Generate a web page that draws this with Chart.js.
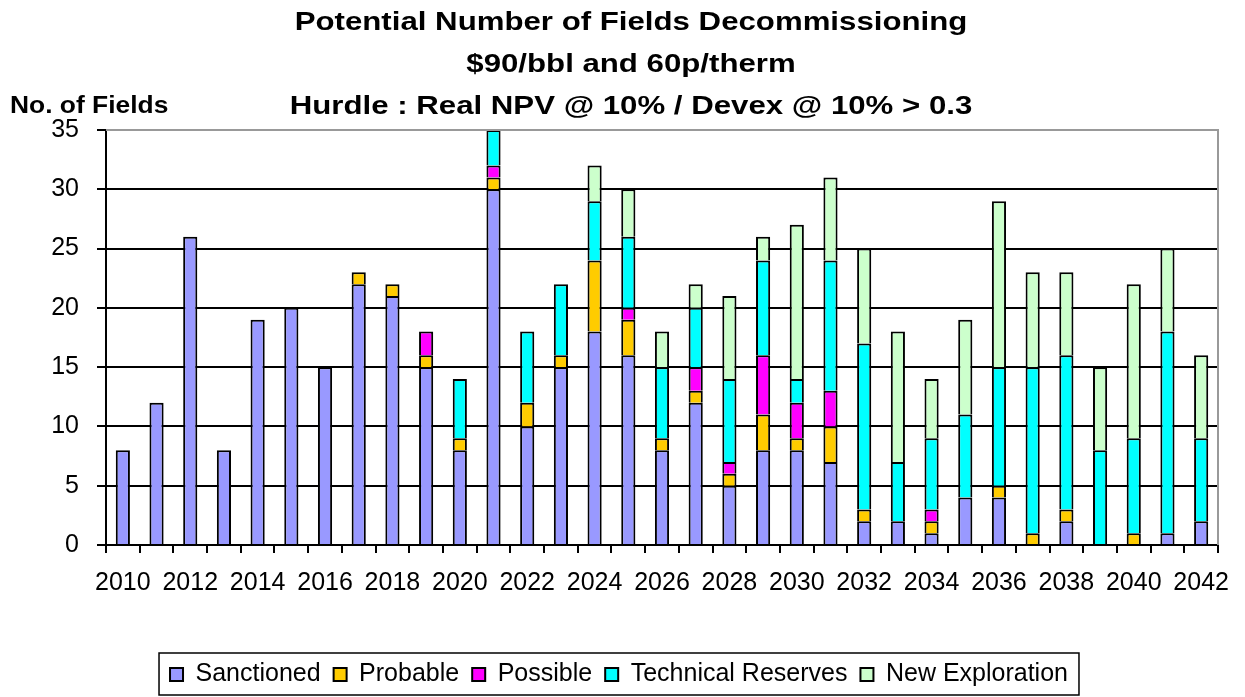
<!DOCTYPE html>
<html>
<head>
<meta charset="utf-8">
<script src="https://cdn.jsdelivr.net/npm/chart.js@4.4.0/dist/chart.umd.min.js"></script>
<style>
  html, body { margin: 0; padding: 0; background: #fff; }
  #wrap { width: 1245px; height: 697px; }
</style>
</head>
<body>
<div id="wrap"><canvas id="chart"></canvas></div>
<script>
const years = ['2010', '2011', '2012', '2013', '2014', '2015', '2016', '2017', '2018', '2019', '2020',
               '2021', '2022', '2023', '2024', '2025', '2026', '2027', '2028', '2029', '2030',
               '2031', '2032', '2033', '2034', '2035', '2036', '2037', '2038', '2039', '2040',
               '2041', '2042'];

const sanctioned  = [8, 12, 26, 8, 19, 20, 15, 22, 21, 15, 8, 30, 10, 15, 18, 16, 8, 12, 5, 8, 8, 7, 2, 2, 1, 4, 4, 0, 2, 0, 0, 1, 2];
const probable    = [0, 0, 0, 0, 0, 0, 0, 1, 1, 1, 1, 1, 2, 1, 6, 3, 1, 1, 1, 3, 1, 3, 1, 0, 1, 0, 1, 1, 1, 0, 1, 0, 0];
const possible    = [0, 0, 0, 0, 0, 0, 0, 0, 0, 2, 0, 1, 0, 0, 0, 1, 0, 2, 1, 5, 3, 3, 0, 0, 1, 0, 0, 0, 0, 0, 0, 0, 0];
const technical   = [0, 0, 0, 0, 0, 0, 0, 0, 0, 0, 5, 3, 6, 6, 5, 6, 6, 5, 7, 8, 2, 11, 14, 5, 6, 7, 10, 14, 13, 8, 8, 17, 7];
const exploration = [0, 0, 0, 0, 0, 0, 0, 0, 0, 0, 0, 0, 0, 0, 3, 4, 3, 2, 7, 2, 13, 7, 8, 11, 5, 8, 14, 8, 7, 7, 13, 7, 7];

const seriesNames  = ['Sanctioned', 'Probable', 'Possible', 'Technical Reserves', 'New Exploration'];
const seriesColors = ['#9999FF', '#FFCC00', '#FF00FF', '#00FFFF', '#CCFFCC'];

const titleLines = [
    'Potential Number of Fields Decommissioning',
    '$90/bbl and 60p/therm',
    'Hurdle : Real NPV @ 10% / Devex @ 10% > 0.3'
];
const yTitle = 'No. of Fields';

const FONT = '"Liberation Sans", Arial, sans-serif';

// titles, plot frame and the box round the legend
const decorPlugin = {
    id: 'decor',
    afterDraw(chart) {
        const ctx = chart.ctx;
        const a = chart.chartArea;
        ctx.save();

        ctx.strokeStyle = '#999';
        ctx.lineWidth = 2;
        ctx.beginPath();
        ctx.moveTo(a.left, a.top);
        ctx.lineTo(a.right, a.top);
        ctx.lineTo(a.right, a.bottom);
        ctx.stroke();

        ctx.fillStyle = '#000';
        ctx.textBaseline = 'alphabetic';
        ctx.textAlign = 'center';
        ctx.font = 'bold 26px ' + FONT;
        titleLines.forEach((t, i) => {
            ctx.save();
            ctx.translate(631, 30 + i * 42);
            ctx.scale(1.2, 1);
            ctx.fillText(t, 0, 0);
            ctx.restore();
        });

        ctx.textAlign = 'left';
        ctx.font = 'bold 24px ' + FONT;
        ctx.save();
        ctx.translate(10, 113);
        ctx.scale(1.1, 1);
        ctx.fillText(yTitle, 0, 0);
        ctx.restore();

        const hb = chart.legend.legendHitBoxes;
        if (hb && hb.length) {
            const l = Math.min(...hb.map(h => h.left)) - 11;
            const r = Math.max(...hb.map(h => h.left + h.width)) + 11;
            const t = hb[0].top - 9;
            const b = hb[0].top + hb[0].height + 8;
            ctx.strokeStyle = '#000';
            ctx.lineWidth = 1.5;
            ctx.strokeRect(l, t, r - l, b - t);
        }
        ctx.restore();
    }
};

const seriesData = [sanctioned, probable, possible, technical, exploration];
const datasets = seriesNames.map((name, i) => ({
    label: name,
    data: seriesData[i].map(v => (v > 0 ? v : null)),
    backgroundColor: seriesColors[i],
    borderColor: '#000',
    borderWidth: { top: 2, bottom: 0, left: 2, right: 2 },
    borderSkipped: false,
    barPercentage: 0.42,
    categoryPercentage: 1
}));

new Chart(document.getElementById('chart'), {
    type: 'bar',
    data: { labels: years, datasets },
    plugins: [decorPlugin],
    options: {
        responsive: true,
        maintainAspectRatio: false,
        animation: false,
        layout: { padding: { top: 130, right: 27, left: 20, bottom: 0 } },
        plugins: {
            title: { display: false },
            tooltip: { enabled: false },
            legend: {
                position: 'bottom',
                labels: {
                    boxWidth: 13, boxHeight: 13, padding: 13, color: '#000',
                    font: { size: 25, family: FONT },
                    generateLabels: chart => Chart.defaults.plugins.legend.labels.generateLabels(chart)
                        .map(l => Object.assign(l, { lineWidth: 2 }))
                }
            }
        },
        scales: {
            x: {
                stacked: true,
                grid: { display: true, drawOnChartArea: false, offset: true, color: '#000', lineWidth: 2, tickLength: 8 },
                border: { color: '#000', width: 2 },
                ticks: {
                    autoSkip: false, maxRotation: 0, color: '#000', padding: 15,
                    font: { size: 25, family: FONT },
                    callback: (v, i) => (i % 2 === 0 ? years[i] : '')
                },
                afterFit: s => { s.height = 104; }
            },
            y: {
                stacked: true,
                min: 0, max: 35,
                grid: { color: '#000', lineWidth: 2, tickLength: 9 },
                border: { color: '#000', width: 2 },
                ticks: { stepSize: 5, color: '#000', padding: 18, font: { size: 25, family: FONT } },
                afterFit: s => { s.width = 86; }
            }
        }
    }
});
</script>
</body>
</html>
